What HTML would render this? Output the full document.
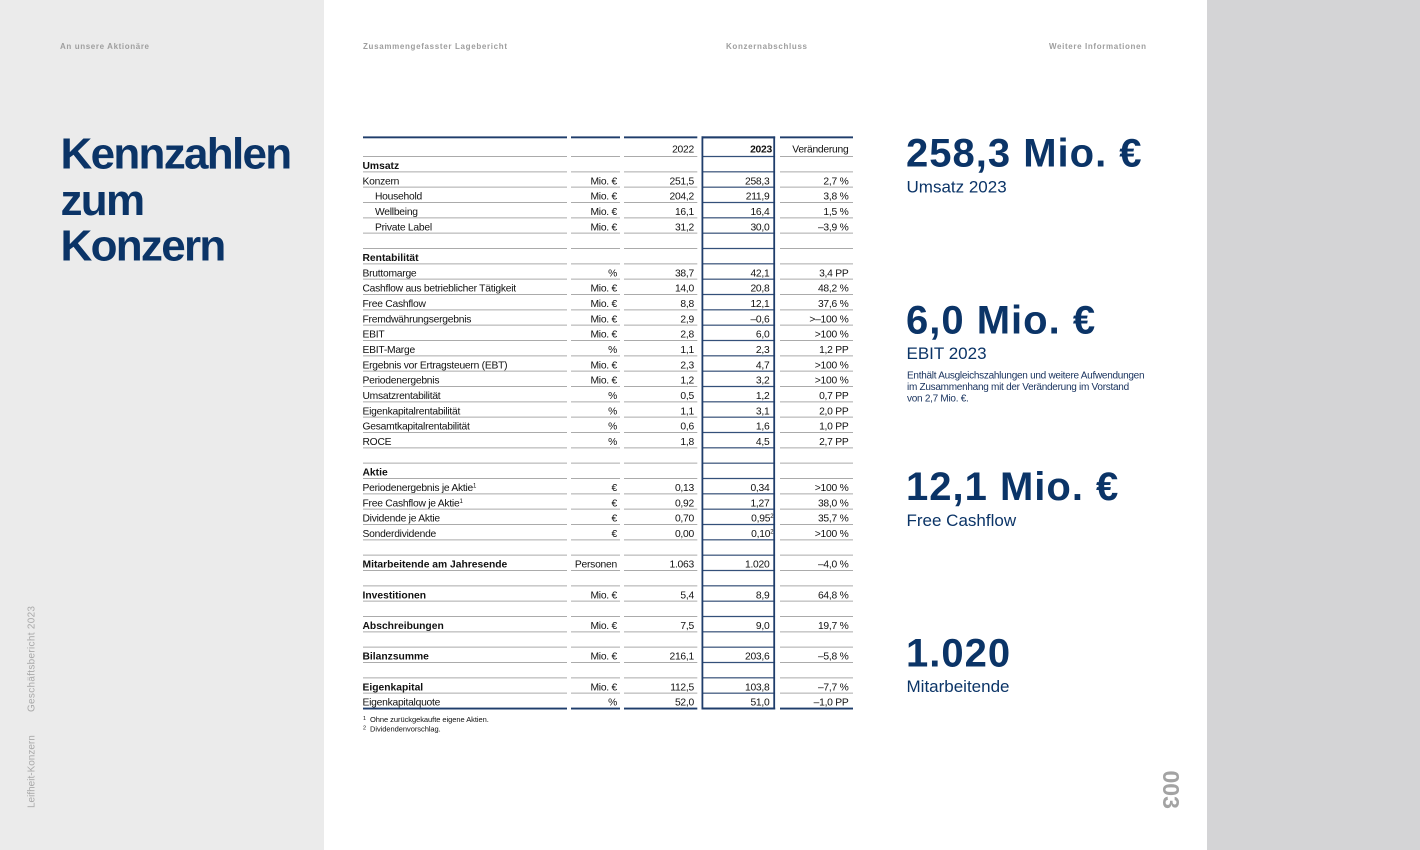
<!DOCTYPE html>
<html>
<head>
<meta charset="utf-8">
<style>
html,body{margin:0;padding:0;background:#fff;}
body{width:1420px;height:850px;overflow:hidden;}
svg{display:block;}
</style>
</head>
<body>
<svg width="1420" height="850" viewBox="0 0 1420 850" xmlns="http://www.w3.org/2000/svg" font-family="'Liberation Sans', Arial, sans-serif">
  <!-- backgrounds -->
  <rect x="0" y="0" width="1420" height="850" fill="#ffffff"/>
  <rect x="0" y="0" width="324" height="850" fill="#ebebeb"/>
  <rect x="1207" y="0" width="213" height="850" fill="#d4d4d6"/>

  <!-- top header labels -->
  <g font-size="8" font-weight="bold" fill="#9e9e9e">
    <text x="60" y="49" textLength="89" lengthAdjust="spacing">An unsere Aktionäre</text>
    <text x="363" y="49" textLength="144" lengthAdjust="spacing">Zusammengefasster Lagebericht</text>
    <text x="726" y="49" textLength="81" lengthAdjust="spacing">Konzernabschluss</text>
    <text x="1049" y="49" textLength="97" lengthAdjust="spacing">Weitere Informationen</text>
  </g>

  <!-- title -->
  <g font-size="44" font-weight="bold" fill="#0b3467" letter-spacing="-1.7">
    <text x="60.5" y="168.3">Kennzahlen</text>
    <text x="60.5" y="215">zum</text>
    <text x="60.5" y="260.5">Konzern</text>
  </g>

  <!-- left vertical texts -->
  <g font-size="10" fill="#a9a9a9">
    <text transform="translate(34.5,712) rotate(-90)" textLength="106" lengthAdjust="spacing">Geschäftsbericht 2023</text>
    <text transform="translate(34.5,808) rotate(-90)">Leifheit-Konzern</text>
  </g>

  <!-- page number -->
  <text transform="translate(1163,770.5) rotate(90)" font-size="23" font-weight="bold" fill="#a3a3a3">003</text>

  <!-- ========== TABLE LINES ========== -->
  <path fill="none" stroke="#ababab" stroke-width="1" d="
    M363 156.5H853 M363 171.83H853 M363 187.17H853 M363 202.5H853 M363 217.83H853
    M363 233.17H853 M363 248.5H853 M363 263.83H853 M363 279.17H853 M363 294.5H853
    M363 309.83H853 M363 325.17H853 M363 340.5H853 M363 355.83H853 M363 371.17H853
    M363 386.5H853 M363 401.83H853 M363 417.17H853 M363 432.5H853 M363 447.83H853
    M363 463.17H853 M363 478.5H853 M363 493.83H853 M363 509.17H853 M363 524.5H853
    M363 539.83H853 M363 555.17H853 M363 570.5H853 M363 585.83H853 M363 601.17H853
    M363 616.5H853 M363 631.83H853 M363 647.17H853 M363 662.5H853 M363 677.83H853
    M363 693.17H853"/>
  <!-- thick top / bottom -->
  <rect x="363" y="136.4" width="490" height="1.9" fill="#1f3d6b"/>
  <rect x="363" y="707.6" width="490" height="1.9" fill="#1f3d6b"/>
  <!-- column gaps -->
  <rect x="567" y="134" width="4" height="578" fill="#ffffff"/>
  <rect x="620" y="134" width="4" height="578" fill="#ffffff"/>
  <rect x="697.3" y="134" width="4.2" height="578" fill="#ffffff"/>
  <rect x="775.1" y="134" width="4.9" height="578" fill="#ffffff"/>
  <!-- 2023 column inner lines -->
  <path fill="none" stroke="#34507a" stroke-width="1.2" d="
    M701.5 156.5H775 M701.5 171.83H775 M701.5 187.17H775 M701.5 202.5H775 M701.5 217.83H775
    M701.5 233.17H775 M701.5 248.5H775 M701.5 263.83H775 M701.5 279.17H775 M701.5 294.5H775
    M701.5 309.83H775 M701.5 325.17H775 M701.5 340.5H775 M701.5 355.83H775 M701.5 371.17H775
    M701.5 386.5H775 M701.5 401.83H775 M701.5 417.17H775 M701.5 432.5H775 M701.5 447.83H775
    M701.5 463.17H775 M701.5 478.5H775 M701.5 493.83H775 M701.5 509.17H775 M701.5 524.5H775
    M701.5 539.83H775 M701.5 555.17H775 M701.5 570.5H775 M701.5 585.83H775 M701.5 601.17H775
    M701.5 616.5H775 M701.5 631.83H775 M701.5 647.17H775 M701.5 662.5H775 M701.5 677.83H775
    M701.5 693.17H775"/>
  <rect x="701.5" y="136.4" width="73.6" height="1.9" fill="#1f3d6b"/>
  <rect x="701.5" y="707.6" width="73.6" height="1.9" fill="#1f3d6b"/>
  <!-- box vertical borders -->
  <rect x="701.5" y="136.4" width="1.8" height="573.1" fill="#1f3d6b"/>
  <rect x="773.3" y="136.4" width="1.8" height="573.1" fill="#1f3d6b"/>

  <!-- ========== TABLE TEXT ========== -->
  <g font-size="10.3" letter-spacing="-0.25" fill="#111111">
    <!-- header -->
    <text x="694" y="152.5" text-anchor="end">2022</text>
    <text x="772" y="152.5" text-anchor="end" font-weight="bold">2023</text>
    <text x="848.5" y="152.5" text-anchor="end">Veränderung</text>

    <!-- col1 -->
    <g font-weight="bold" letter-spacing="0">
      <text x="362.5" y="169">Umsatz</text>
      <text x="362.5" y="261">Rentabilität</text>
      <text x="362.5" y="475.67">Aktie</text>
      <text x="362.5" y="567.67">Mitarbeitende am Jahresende</text>
      <text x="362.5" y="598.33">Investitionen</text>
      <text x="362.5" y="629">Abschreibungen</text>
      <text x="362.5" y="659.67">Bilanzsumme</text>
      <text x="362.5" y="690.33">Eigenkapital</text>
    </g>
    <text x="362.5" y="184.33">Konzern</text>
    <text x="375" y="199.67">Household</text>
    <text x="375" y="215">Wellbeing</text>
    <text x="375" y="230.33">Private Label</text>
    <text x="362.5" y="276.33">Bruttomarge</text>
    <text x="362.5" y="291.67">Cashflow aus betrieblicher Tätigkeit</text>
    <text x="362.5" y="307">Free Cashflow</text>
    <text x="362.5" y="322.33">Fremdwährungsergebnis</text>
    <text x="362.5" y="337.67">EBIT</text>
    <text x="362.5" y="353">EBIT-Marge</text>
    <text x="362.5" y="368.33">Ergebnis vor Ertragsteuern (EBT)</text>
    <text x="362.5" y="383.67">Periodenergebnis</text>
    <text x="362.5" y="399">Umsatzrentabilität</text>
    <text x="362.5" y="414.33">Eigenkapitalrentabilität</text>
    <text x="362.5" y="429.67">Gesamtkapitalrentabilität</text>
    <text x="362.5" y="445">ROCE</text>
    <text x="362.5" y="491">Periodenergebnis je Aktie<tspan font-size="6" dy="-3.5">1</tspan></text>
    <text x="362.5" y="506.33">Free Cashflow je Aktie<tspan font-size="6" dy="-3.5">1</tspan></text>
    <text x="362.5" y="521.67">Dividende je Aktie</text>
    <text x="362.5" y="537">Sonderdividende</text>
    <text x="362.5" y="705.67">Eigenkapitalquote</text>

    <!-- col2 units -->
    <g text-anchor="end">
      <text x="617" y="184.33">Mio. €</text>
      <text x="617" y="199.67">Mio. €</text>
      <text x="617" y="215">Mio. €</text>
      <text x="617" y="230.33">Mio. €</text>
      <text x="617" y="276.33">%</text>
      <text x="617" y="291.67">Mio. €</text>
      <text x="617" y="307">Mio. €</text>
      <text x="617" y="322.33">Mio. €</text>
      <text x="617" y="337.67">Mio. €</text>
      <text x="617" y="353">%</text>
      <text x="617" y="368.33">Mio. €</text>
      <text x="617" y="383.67">Mio. €</text>
      <text x="617" y="399">%</text>
      <text x="617" y="414.33">%</text>
      <text x="617" y="429.67">%</text>
      <text x="617" y="445">%</text>
      <text x="617" y="491">€</text>
      <text x="617" y="506.33">€</text>
      <text x="617" y="521.67">€</text>
      <text x="617" y="537">€</text>
      <text x="617" y="567.67">Personen</text>
      <text x="617" y="598.33">Mio. €</text>
      <text x="617" y="629">Mio. €</text>
      <text x="617" y="659.67">Mio. €</text>
      <text x="617" y="690.33">Mio. €</text>
      <text x="617" y="705.67">%</text>
    </g>

    <!-- col3 2022 -->
    <g text-anchor="end">
      <text x="694" y="184.33">251,5</text>
      <text x="694" y="199.67">204,2</text>
      <text x="694" y="215">16,1</text>
      <text x="694" y="230.33">31,2</text>
      <text x="694" y="276.33">38,7</text>
      <text x="694" y="291.67">14,0</text>
      <text x="694" y="307">8,8</text>
      <text x="694" y="322.33">2,9</text>
      <text x="694" y="337.67">2,8</text>
      <text x="694" y="353">1,1</text>
      <text x="694" y="368.33">2,3</text>
      <text x="694" y="383.67">1,2</text>
      <text x="694" y="399">0,5</text>
      <text x="694" y="414.33">1,1</text>
      <text x="694" y="429.67">0,6</text>
      <text x="694" y="445">1,8</text>
      <text x="694" y="491">0,13</text>
      <text x="694" y="506.33">0,92</text>
      <text x="694" y="521.67">0,70</text>
      <text x="694" y="537">0,00</text>
      <text x="694" y="567.67">1.063</text>
      <text x="694" y="598.33">5,4</text>
      <text x="694" y="629">7,5</text>
      <text x="694" y="659.67">216,1</text>
      <text x="694" y="690.33">112,5</text>
      <text x="694" y="705.67">52,0</text>
    </g>

    <!-- col4 2023 -->
    <g text-anchor="end">
      <text x="769.5" y="184.33">258,3</text>
      <text x="769.5" y="199.67">211,9</text>
      <text x="769.5" y="215">16,4</text>
      <text x="769.5" y="230.33">30,0</text>
      <text x="769.5" y="276.33">42,1</text>
      <text x="769.5" y="291.67">20,8</text>
      <text x="769.5" y="307">12,1</text>
      <text x="769.5" y="322.33">–0,6</text>
      <text x="769.5" y="337.67">6,0</text>
      <text x="769.5" y="353">2,3</text>
      <text x="769.5" y="368.33">4,7</text>
      <text x="769.5" y="383.67">3,2</text>
      <text x="769.5" y="399">1,2</text>
      <text x="769.5" y="414.33">3,1</text>
      <text x="769.5" y="429.67">1,6</text>
      <text x="769.5" y="445">4,5</text>
      <text x="769.5" y="491">0,34</text>
      <text x="769.5" y="506.33">1,27</text>
      <text x="773.3" y="521.67">0,95<tspan font-size="6" dy="-3.5">2</tspan></text>
      <text x="773.3" y="537">0,10<tspan font-size="6" dy="-3.5">2</tspan></text>
      <text x="769.5" y="567.67">1.020</text>
      <text x="769.5" y="598.33">8,9</text>
      <text x="769.5" y="629">9,0</text>
      <text x="769.5" y="659.67">203,6</text>
      <text x="769.5" y="690.33">103,8</text>
      <text x="769.5" y="705.67">51,0</text>
    </g>

    <!-- col5 Veränderung -->
    <g text-anchor="end">
      <text x="848.5" y="184.33">2,7 %</text>
      <text x="848.5" y="199.67">3,8 %</text>
      <text x="848.5" y="215">1,5 %</text>
      <text x="848.5" y="230.33">–3,9 %</text>
      <text x="848.5" y="276.33">3,4 PP</text>
      <text x="848.5" y="291.67">48,2 %</text>
      <text x="848.5" y="307">37,6 %</text>
      <text x="848.5" y="322.33">&gt;–100 %</text>
      <text x="848.5" y="337.67">&gt;100 %</text>
      <text x="848.5" y="353">1,2 PP</text>
      <text x="848.5" y="368.33">&gt;100 %</text>
      <text x="848.5" y="383.67">&gt;100 %</text>
      <text x="848.5" y="399">0,7 PP</text>
      <text x="848.5" y="414.33">2,0 PP</text>
      <text x="848.5" y="429.67">1,0 PP</text>
      <text x="848.5" y="445">2,7 PP</text>
      <text x="848.5" y="491">&gt;100 %</text>
      <text x="848.5" y="506.33">38,0 %</text>
      <text x="848.5" y="521.67">35,7 %</text>
      <text x="848.5" y="537">&gt;100 %</text>
      <text x="848.5" y="567.67">–4,0 %</text>
      <text x="848.5" y="598.33">64,8 %</text>
      <text x="848.5" y="629">19,7 %</text>
      <text x="848.5" y="659.67">–5,8 %</text>
      <text x="848.5" y="690.33">–7,7 %</text>
      <text x="848.5" y="705.67">–1,0 PP</text>
    </g>
  </g>

  <!-- footnotes -->
  <g fill="#111111">
    <text x="363" y="720" font-size="5.5">1</text>
    <text x="370" y="722" font-size="7.5" letter-spacing="-0.05">Ohne zurückgekaufte eigene Aktien.</text>
    <text x="363" y="729.5" font-size="5.5">2</text>
    <text x="370" y="731.5" font-size="7.5" letter-spacing="-0.05">Dividendenvorschlag.</text>
  </g>

  <!-- ========== RIGHT KPIs ========== -->
  <g fill="#0b3467">
    <g font-size="40" font-weight="bold" letter-spacing="1">
      <text x="906" y="166.7">258,3 Mio. €</text>
      <text x="906" y="333.3">6,0 Mio. €</text>
      <text x="906" y="500">12,1 Mio. €</text>
      <text x="906" y="666.7">1.020</text>
    </g>
    <g font-size="17">
      <text x="906.5" y="192.7">Umsatz 2023</text>
      <text x="906.5" y="359.2">EBIT 2023</text>
      <text x="906.5" y="526">Free Cashflow</text>
      <text x="906.5" y="692">Mitarbeitende</text>
    </g>
    <g font-size="10" letter-spacing="-0.27" fill="#16305c">
      <text x="907" y="378.5">Enthält Ausgleichszahlungen und weitere Aufwendungen</text>
      <text x="907" y="390">im Zusammenhang mit der Veränderung im Vorstand</text>
      <text x="907" y="401.5">von 2,7 Mio. €.</text>
    </g>
  </g>
</svg>
</body>
</html>
